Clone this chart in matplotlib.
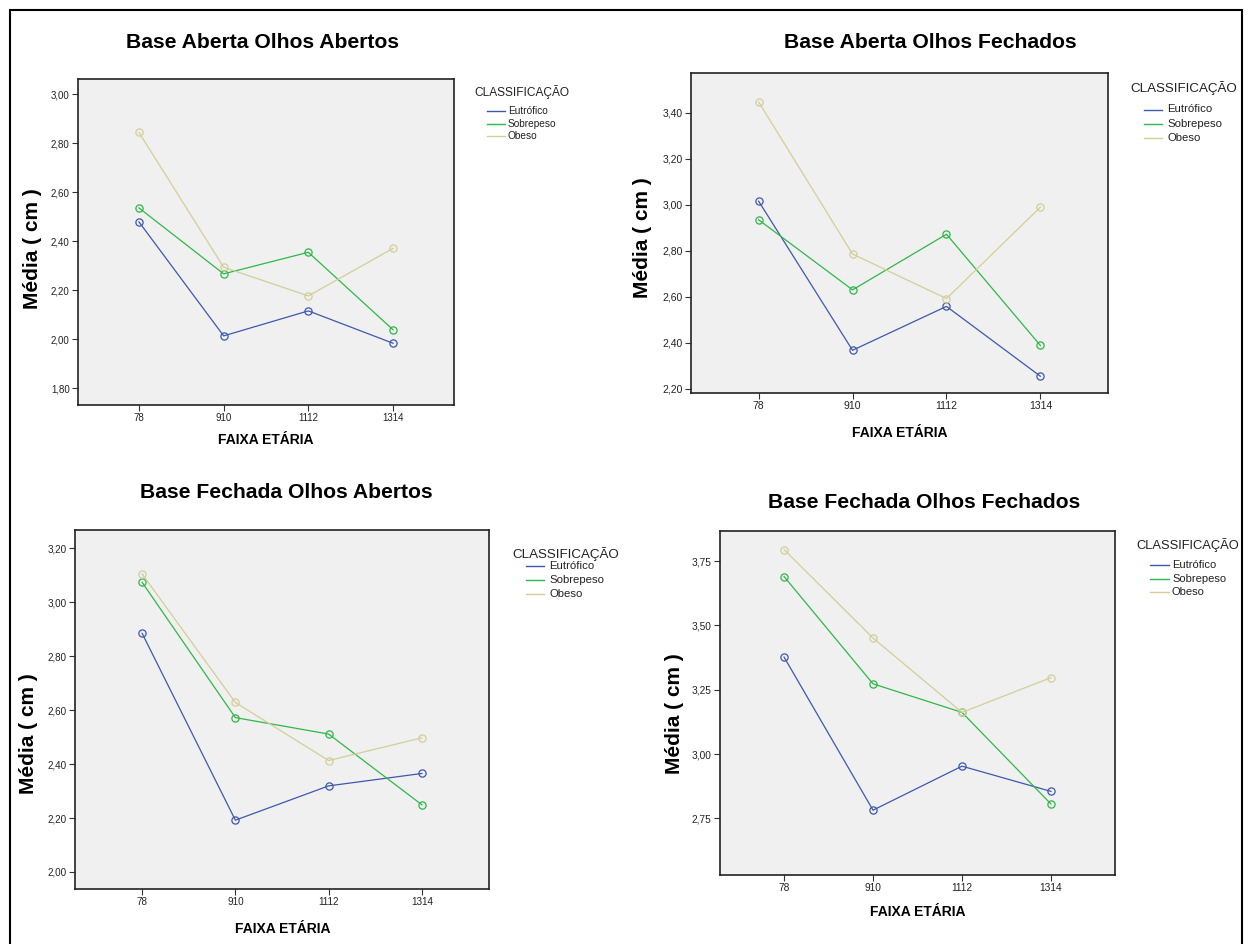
import matplotlib
matplotlib.use("Agg")
import matplotlib.pyplot as plt
from matplotlib.lines import Line2D
from matplotlib.patches import Rectangle

plt.rcParams['font.family'] = ['Liberation Sans', 'DejaVu Sans']

# ---------------- data ----------------
age_groups = ["78", "910", "1112", "1314"]
series_names = ["Eutrófico", "Sobrepeso", "Obeso"]
titles = ["Base Aberta Olhos Abertos", "Base Aberta Olhos Fechados",
          "Base Fechada Olhos Abertos", "Base Fechada Olhos Fechados"]

ba_oa_eutrofico = [2.479, 2.014, 2.116, 1.984]
ba_oa_sobrepeso = [2.536, 2.267, 2.355, 2.039]
ba_oa_obeso = [2.844, 2.294, 2.177, 2.371]

ba_of_eutrofico = [3.016, 2.367, 2.558, 2.254]
ba_of_sobrepeso = [2.935, 2.630, 2.872, 2.388]
ba_of_obeso = [3.448, 2.786, 2.592, 2.990]

bf_oa_eutrofico = [2.884, 2.192, 2.319, 2.365]
bf_oa_sobrepeso = [3.073, 2.572, 2.511, 2.249]
bf_oa_obeso = [3.104, 2.628, 2.413, 2.497]

bf_of_eutrofico = [3.377, 2.782, 2.953, 2.855]
bf_of_sobrepeso = [3.690, 3.273, 3.162, 2.806]
bf_of_obeso = [3.795, 3.451, 3.162, 3.297]

yticks_1 = [1.80, 2.00, 2.20, 2.40, 2.60, 2.80, 3.00]
yticks_2 = [2.20, 2.40, 2.60, 2.80, 3.00, 3.20, 3.40]
yticks_3 = [2.00, 2.20, 2.40, 2.60, 2.80, 3.00, 3.20]
yticks_4 = [2.75, 3.00, 3.25, 3.50, 3.75]

panels_data = [
    [ba_oa_eutrofico, ba_oa_sobrepeso, ba_oa_obeso],
    [ba_of_eutrofico, ba_of_sobrepeso, ba_of_obeso],
    [bf_oa_eutrofico, bf_oa_sobrepeso, bf_oa_obeso],
    [bf_of_eutrofico, bf_of_sobrepeso, bf_of_obeso],
]
panels_yticks = [yticks_1, yticks_2, yticks_3, yticks_4]

# ---------------- layout (pixels) ----------------
W, H = 1252, 944
colors = ["#3E58AC", "#2EB848", "#D3CE97"]

layout = [
    dict(ax=(78, 79, 454, 405), ylim=(1.732, 3.062), title=(262, 43), ylab=(32, 249),
         xlab=(266, 440), leg_title=(474, 92), leg_x=(487, 505, 508), leg_y=(111, 123.5, 136),
         tick_fs=7.0, leg_tfs=8.6, leg_fs=7.3),
    dict(ax=(691, 73, 1108, 393), ylim=(2.181, 3.574), title=(930, 43), ylab=(642, 238),
         xlab=(900, 433), leg_title=(1130, 88), leg_x=(1144, 1162, 1167), leg_y=(109.5, 124, 138),
         tick_fs=7.5, leg_tfs=9.6, leg_fs=8.2),
    dict(ax=(75, 530, 489, 889), ylim=(1.937, 3.267), title=(286, 493), ylab=(29, 734),
         xlab=(283, 929), leg_title=(512, 554), leg_x=(526, 544, 549), leg_y=(566, 580, 594),
         tick_fs=7.1, leg_tfs=9.6, leg_fs=8.2),
    dict(ax=(720, 531, 1115, 875), ylim=(2.530, 3.867), title=(924, 503), ylab=(675, 714),
         xlab=(918, 912), leg_title=(1136, 545), leg_x=(1150, 1169, 1172), leg_y=(565, 579, 592),
         tick_fs=7.3, leg_tfs=9.3, leg_fs=8.0),
]

fig = plt.figure(figsize=(W / 100, H / 100), dpi=100)
fig.patch.set_facecolor("white")


def fx(x):
    return x / W


def fy(y):
    return 1 - y / H


# outer border
fig.add_artist(Rectangle((fx(10), fy(960)), fx(1242) - fx(10), fy(10) - fy(960),
                         transform=fig.transFigure, fill=False, edgecolor="black", linewidth=1.5))

for data, yt, lay, title in zip(panels_data, panels_yticks, layout, titles):
    l, t, r, b = lay["ax"]
    ax = fig.add_axes([fx(l), fy(b), (r - l) / W, (b - t) / H])
    ax.set_facecolor("#F0F0F0")
    xs = list(range(len(age_groups)))
    for vals, c, name in zip(data, colors, series_names):
        ax.plot(xs, vals, color=c, linewidth=0.9, marker="o", markersize=5.2,
                markerfacecolor="none", markeredgecolor=c, markeredgewidth=0.9, label=name)
    ax.set_xlim(-0.72, 3.72)
    ax.set_ylim(*lay["ylim"])
    ax.set_xticks(xs)
    ax.set_xticklabels(age_groups)
    ax.set_yticks(yt)
    ax.set_yticklabels([f"{v:.2f}".replace(".", ",") for v in yt])
    ax.tick_params(axis="both", direction="out", length=4, width=0.8, color="#333333",
                   labelsize=lay["tick_fs"], labelcolor="#222222", pad=2)
    for s in ax.spines.values():
        s.set_linewidth(1.2)
        s.set_color("#222222")

    fig.text(fx(lay["title"][0]), fy(lay["title"][1]), title, ha="center", va="center",
             fontsize=15.2, fontweight="bold")
    fig.text(fx(lay["ylab"][0]), fy(lay["ylab"][1]), "Média ( cm )", ha="center", va="center",
             rotation=90, fontsize=15, fontweight="bold")
    fig.text(fx(lay["xlab"][0]), fy(lay["xlab"][1]), "FAIXA ETÁRIA", ha="center", va="center",
             fontsize=10, fontweight="bold")

    # legend
    fig.text(fx(lay["leg_title"][0]), fy(lay["leg_title"][1]), "CLASSIFICAÇÃO", ha="left",
             va="center", fontsize=lay["leg_tfs"], color="#222222")
    x0, x1, xt = lay["leg_x"]
    for name, c, yy in zip(series_names, colors, lay["leg_y"]):
        fig.add_artist(Line2D([fx(x0), fx(x1)], [fy(yy), fy(yy)], transform=fig.transFigure,
                              color=c, linewidth=1.0))
        fig.text(fx(xt), fy(yy), name, ha="left", va="center", fontsize=lay["leg_fs"],
                 color="#222222")

fig.savefig("out.png", dpi=100)
